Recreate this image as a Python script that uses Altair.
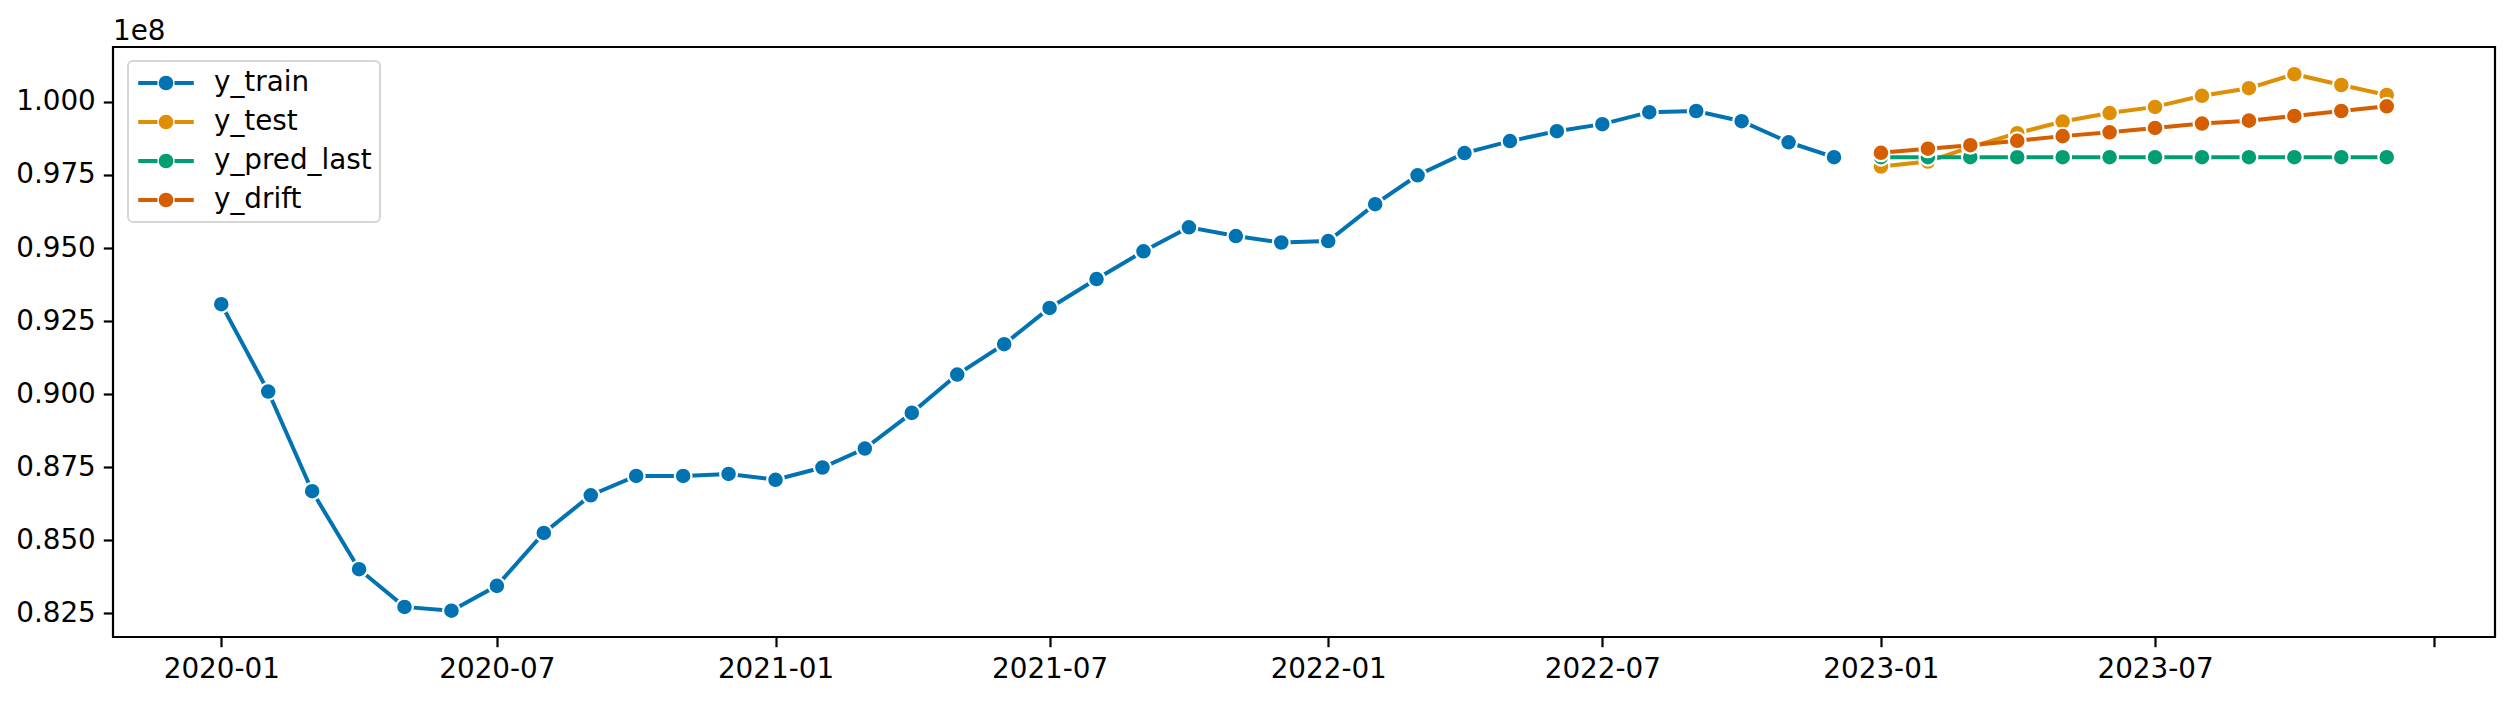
import altair as alt
import pandas as pd

series_names = ["y_train", "y_test", "y_pred_last", "y_drift"]
series_colors = ["#0173B2", "#DE8F05", "#029E73", "#D55E00"]

train_start = "2020-01-01"
test_start = "2023-01-01"

y_train = [93080000, 90090000, 86680000, 84010000, 82720000, 82590000,
           83440000, 85250000, 86540000, 87200000, 87200000, 87270000,
           87070000, 87490000, 88140000, 89360000, 90670000, 91710000,
           92950000, 93940000, 94890000, 95710000, 95410000, 95190000,
           95240000, 96500000, 97490000, 98250000, 98660000, 99000000,
           99240000, 99650000, 99690000, 99340000, 98620000, 98110000]
y_test = [97790000, 97960000, 98450000, 98930000, 99330000, 99620000,
          99830000, 100210000, 100470000, 100950000, 100580000, 100240000]
y_pred_last = [98110000, 98110000, 98110000, 98110000, 98110000, 98110000,
               98110000, 98110000, 98110000, 98110000, 98110000, 98110000]
y_drift = [98260000, 98400000, 98520000, 98670000, 98830000, 98960000,
           99110000, 99260000, 99360000, 99520000, 99690000, 99850000]

x_tick_months = [(2020, 1), (2020, 7), (2021, 1), (2021, 7), (2022, 1),
                 (2022, 7), (2023, 1), (2023, 7), (2024, 1)]
y_ticks = [82500000, 85000000, 87500000, 90000000, 92500000, 95000000,
           97500000, 100000000]

rows = []
train_dates = pd.date_range(train_start, periods=len(y_train), freq="MS")
test_dates = pd.date_range(test_start, periods=len(y_test), freq="MS")
for d, v in zip(train_dates, y_train):
    rows.append({"date": d.strftime("%Y-%m-%d"), "series": "y_train", "value": v})
for name, vals in [("y_test", y_test), ("y_pred_last", y_pred_last), ("y_drift", y_drift)]:
    for d, v in zip(test_dates, vals):
        rows.append({"date": d.strftime("%Y-%m-%d"), "series": name, "value": v})
df = pd.DataFrame(rows)

FONT = "DejaVu Sans"
FS = 27.8

x_axis = alt.Axis(
    values=[alt.DateTime(year=y, month=m, date=1, utc=True) for y, m in x_tick_months],
    labelExpr="utcyear(datum.value) >= 2024 ? '' : utcFormat(datum.value, '%Y-%m')",
    title=None, grid=False, domain=False, tickSize=9.7, tickWidth=2.2, tickColor="black",
    labelFontSize=FS, labelFont=FONT, labelColor="black", labelPadding=9,
    labelOverlap=False, labelFlush=False,
)
y_axis = alt.Axis(
    values=y_ticks,
    labelExpr="format(datum.value / 1e8, '.3f')",
    title=None, grid=False, domain=False, tickSize=9.7, tickWidth=2.2, tickColor="black",
    labelFontSize=FS, labelFont=FONT, labelColor="black", labelPadding=8,
    labelOverlap=False,
)

x_enc = alt.X(
    "date:T",
    scale=alt.Scale(
        type="utc",
        domain=[alt.DateTime(year=2019, month=10, date=21, hours=12, utc=True),
                alt.DateTime(year=2024, month=2, date=10, hours=12, utc=True)],
        nice=False,
    ),
    axis=x_axis,
)
y_enc = alt.Y(
    "value:Q",
    scale=alt.Scale(domain=[81690000, 101880000], nice=False, zero=False),
    axis=y_axis,
)

legend_symbol = ("M-1,0H-0.306M0.306,0H1"
                 "M0.192,0A0.192,0.192,0,1,1,-0.192,0A0.192,0.192,0,1,1,0.192,0Z"
                 "M0.061,0A0.061,0.061,0,1,1,-0.061,0A0.061,0.061,0,1,1,0.061,0Z")

legend = alt.Legend(
    title=None, orient="none", legendX=15, legendY=14,
    symbolType=legend_symbol, symbolSize=3091, symbolStrokeWidth=4,
    labelFontSize=FS, labelFont=FONT, labelColor="black", labelOffset=18,
    fillColor="rgba(255,255,255,0.8)", strokeColor="#d6d6d6",
    cornerRadius=5, clipHeight=28,
)

color_enc = alt.Color("series:N", scale=alt.Scale(domain=series_names, range=series_colors),
                      legend=legend)
fill_enc = alt.Fill("series:N", scale=alt.Scale(domain=series_names, range=series_colors),
                    legend=None)

layers = []
for name in series_names:
    base = alt.Chart().transform_filter(alt.datum.series == name)
    line = base.mark_line(strokeWidth=4).encode(x=x_enc, y=y_enc, color=color_enc)
    pts = base.mark_point(shape="circle", filled=True, size=280, stroke="white",
                          strokeWidth=2.2, opacity=1).encode(x=x_enc, y=y_enc, fill=fill_enc)
    layers += [line, pts]

chart = alt.layer(*layers, data=df).properties(
    width=2382,
    height=590,
    title=alt.TitleParams(text="1e8", anchor="start", frame="group", fontSize=FS,
                          font=FONT, fontWeight="normal", color="black",
                          baseline="alphabetic", offset=9, dy=30),
    autosize=alt.AutoSizeParams(type="none"),
    padding={"left": 105, "top": 39, "right": 10, "bottom": 50},
    background="white",
).configure_view(stroke="black", strokeWidth=2.2).configure_legend(
    strokeWidth=2, padding=8, rowPadding=11,
)

chart.save("out.html", embed_options={"renderer": "svg", "actions": False})
